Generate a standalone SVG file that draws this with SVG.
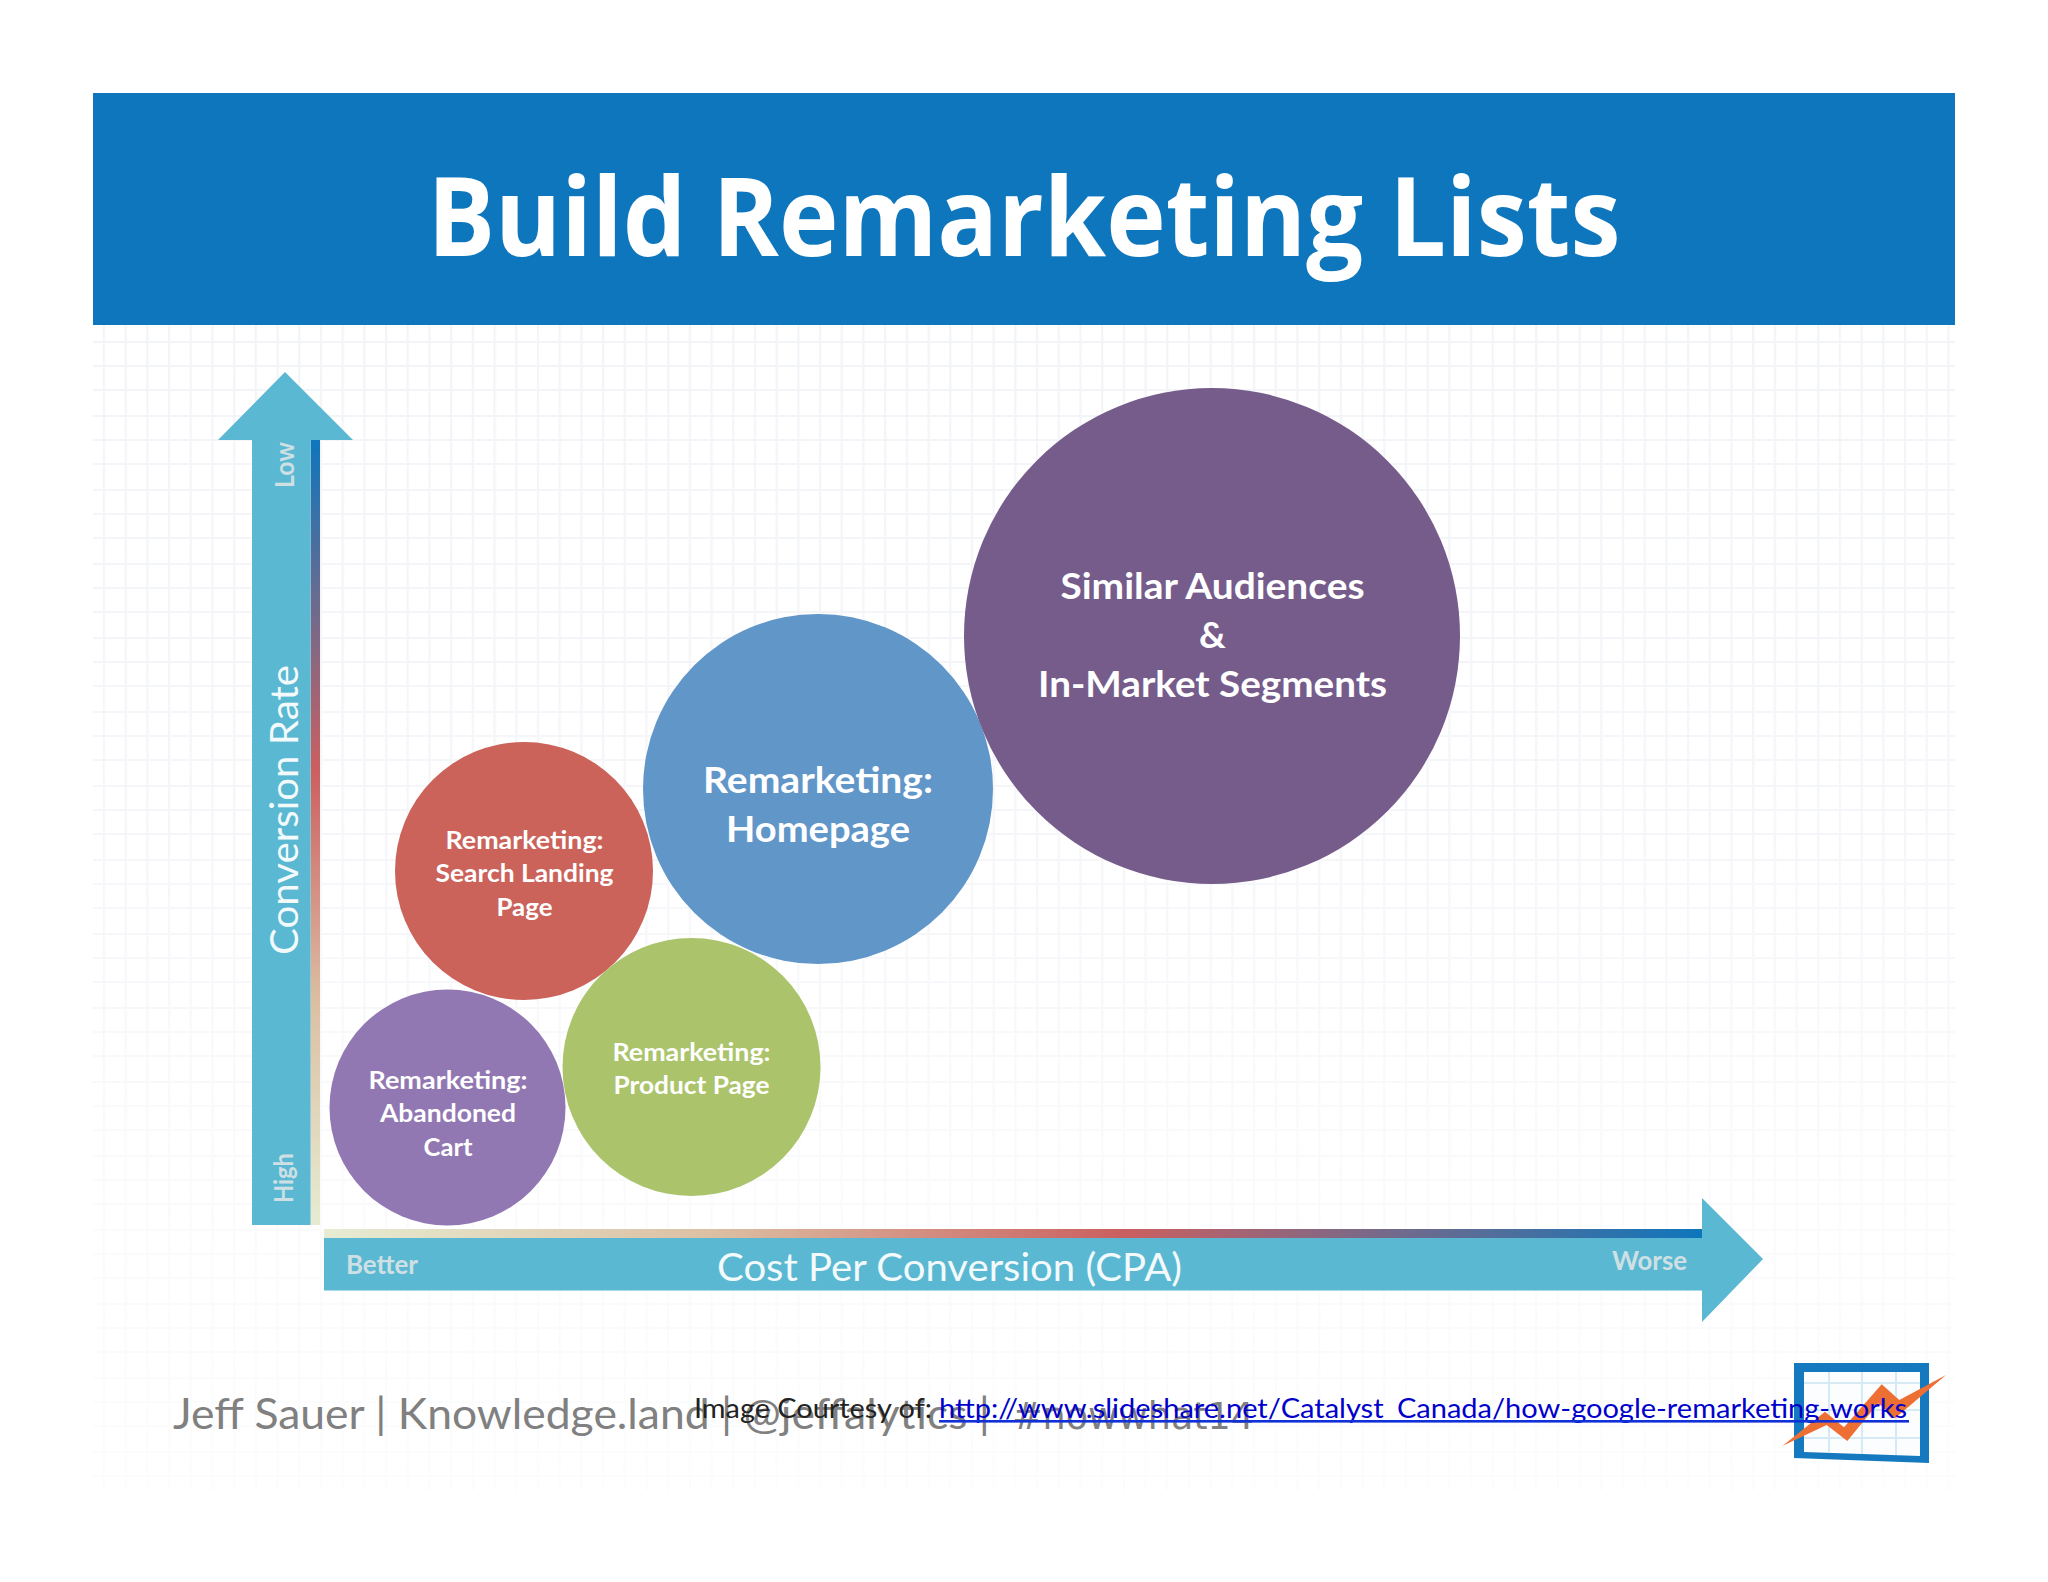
<svg xmlns="http://www.w3.org/2000/svg" width="2048" height="1582" viewBox="0 0 2048 1582">
<style>
text{font-family:"Lato","Carlito","Open Sans",sans-serif}
.lbl{fill:#fff;font-weight:700;text-anchor:middle}
.big{font-size:37px}.sm{font-size:25px}
.axis{fill:#f2fafc;font-size:38px}
.tick{fill:#cfe0e4;font-weight:700;font-size:26px}
.arrow{fill:#5ab8d2}
</style>
<defs>
<pattern id="grid" x="93" y="341" width="21.7" height="74" patternUnits="userSpaceOnUse">
<path d="M11 0V74" stroke="#f3f4f8" stroke-width="2.2" fill="none"/>
<path d="M0 1H21.7M0 25H21.7M0 49H21.7" stroke="#f3f4f8" stroke-width="2.2" fill="none"/>
</pattern>
<linearGradient id="fade" x1="0" y1="0" x2="0" y2="1">
<stop offset="0" stop-color="#fff"/><stop offset=".45" stop-color="#fff" stop-opacity=".8"/><stop offset=".7" stop-color="#fff" stop-opacity=".45"/><stop offset="1" stop-color="#fff" stop-opacity=".25"/>
</linearGradient>
<mask id="gridmask" maskUnits="userSpaceOnUse" x="93" y="325" width="1862" height="1165"><rect x="93" y="325" width="1862" height="1165" fill="url(#fade)"/></mask>
<linearGradient id="vgrad" x1="0" y1="0" x2="0" y2="1">
<stop offset="0" stop-color="#0e76bc"/><stop offset=".42" stop-color="#cb5f60"/><stop offset=".72" stop-color="#dcc0a4"/><stop offset="1" stop-color="#e6ecd2"/>
</linearGradient>
<linearGradient id="hgrad" x1="0" y1="0" x2="1" y2="0">
<stop offset="0" stop-color="#e6ecd2"/><stop offset=".28" stop-color="#dcc0a4"/><stop offset=".58" stop-color="#cb5f60"/><stop offset="1" stop-color="#0e76bc"/>
</linearGradient>
</defs>
<rect width="2048" height="1582" fill="#fff"/>
<g id="background-grid"><rect x="93" y="325" width="1862" height="1165" fill="url(#grid)" mask="url(#gridmask)"/></g>
<g id="banner">
<rect x="93" y="93" width="1862" height="232" fill="#0e76bc"/>
<text x="1024" y="256" text-anchor="middle" textLength="1193" lengthAdjust="spacingAndGlyphs" style="font-family:'Open Sans','Noto Sans',sans-serif;font-weight:700;font-size:110px" fill="#fff">Build Remarketing Lists</text>
</g>
<g id="connectors">
<g id="y-axis">
<rect x="310.6" y="440" width="9.4" height="785" fill="url(#vgrad)"/>
<path class="arrow" d="M285 372L353 440H310.6V1225H252V440H218Z"/>
<text class="axis" transform="translate(298 810) rotate(-90)" text-anchor="middle" textLength="290" lengthAdjust="spacingAndGlyphs">Conversion Rate</text>
<text class="tick" transform="translate(294 488) rotate(-90)" textLength="46" lengthAdjust="spacingAndGlyphs">Low</text>
<text class="tick" transform="translate(293 1203) rotate(-90)" textLength="50" lengthAdjust="spacingAndGlyphs">High</text>
</g>
<g id="x-axis">
<rect x="324" y="1229" width="1378" height="9.4" fill="url(#hgrad)"/>
<path class="arrow" d="M324 1238H1702V1198L1763 1259L1702 1322V1290.5H324Z"/>
<text class="axis" x="949.5" y="1281" text-anchor="middle" textLength="465" lengthAdjust="spacingAndGlyphs">Cost Per Conversion (CPA)</text>
<text class="tick" x="346" y="1274" textLength="72" lengthAdjust="spacingAndGlyphs">Better</text>
<text class="tick" x="1612" y="1270" textLength="75" lengthAdjust="spacingAndGlyphs">Worse</text>
</g>
</g>
<g id="node-abandoned-cart">
<circle cx="447.5" cy="1107.5" r="118" fill="#9278b3"/>
<text class="lbl sm" x="448" y="1089" textLength="159" lengthAdjust="spacingAndGlyphs">Remarketing:</text>
<text class="lbl sm" x="448" y="1122" textLength="136" lengthAdjust="spacingAndGlyphs">Abandoned</text>
<text class="lbl sm" x="448" y="1156" textLength="49" lengthAdjust="spacingAndGlyphs">Cart</text>
</g>
<g id="node-search-landing">
<circle cx="524" cy="871" r="129" fill="#cb635b"/>
<text class="lbl sm" x="524.5" y="849" textLength="158" lengthAdjust="spacingAndGlyphs">Remarketing:</text>
<text class="lbl sm" x="524.5" y="882" textLength="178" lengthAdjust="spacingAndGlyphs">Search Landing</text>
<text class="lbl sm" x="524.5" y="916" textLength="56" lengthAdjust="spacingAndGlyphs">Page</text>
</g>
<g id="node-product-page">
<circle cx="691.5" cy="1067" r="129" fill="#abc46c"/>
<text class="lbl sm" x="691.5" y="1061" textLength="158" lengthAdjust="spacingAndGlyphs">Remarketing:</text>
<text class="lbl sm" x="691.5" y="1094" textLength="156" lengthAdjust="spacingAndGlyphs">Product Page</text>
</g>
<g id="node-homepage">
<circle cx="818" cy="789" r="175" fill="#6196c9"/>
<text class="lbl big" x="818" y="793" textLength="230" lengthAdjust="spacingAndGlyphs">Remarketing:</text>
<text class="lbl big" x="818" y="842" textLength="184" lengthAdjust="spacingAndGlyphs">Homepage</text>
</g>
<g id="node-similar-audiences">
<circle cx="1212" cy="636" r="248" fill="#755c8b"/>
<text class="lbl big" x="1212.5" y="599" textLength="304" lengthAdjust="spacingAndGlyphs">Similar Audiences</text>
<text class="lbl big" x="1212.5" y="648">&amp;</text>
<text class="lbl big" x="1212.5" y="697" textLength="349" lengthAdjust="spacingAndGlyphs">In-Market Segments</text>
</g>
<g id="logo">
<path d="M1794 1363H1929V1463L1794 1458Z" fill="#1479be"/>
<path d="M1804 1372H1920V1456L1804 1452Z" fill="#fbfdff"/>
<path d="M1829 1372V1453M1862 1372V1454M1896 1372V1455M1804 1383H1920M1804 1410H1920M1804 1438H1920" stroke="#d6eaf6" stroke-width="2" fill="none"/>
<path d="M1782.7 1445.7L1825 1411.7L1844 1427.3L1881.7 1384.3L1899.3 1400L1946 1375L1895 1418.3L1878.3 1403.3L1847.3 1441L1826.7 1425Z" fill="#ee6f33"/>
</g>
<g id="footer">
<text x="173" y="1429" fill="#808080" font-size="42"><tspan x="173" textLength="817" lengthAdjust="spacingAndGlyphs">Jeff Sauer | Knowledge.land | @jeffalytics |</tspan> <tspan x="1012" textLength="242" lengthAdjust="spacingAndGlyphs" style="font-family:'DejaVu Sans',sans-serif" font-size="37">#nowwhat14</tspan></text>
</g>
<g id="image-credit">
<text x="694" y="1418" fill="#222" font-size="27" textLength="238" lengthAdjust="spacingAndGlyphs">Image Courtesy of:</text>
<text x="939" y="1418" fill="#0000cc" font-size="27" textLength="968" lengthAdjust="spacingAndGlyphs">http://www.slideshare.net/Catalyst_Canada/how-google-remarketing-works</text>
<rect x="939" y="1420" width="970" height="2.6" fill="#1030d8"/>
</g>
</svg>
